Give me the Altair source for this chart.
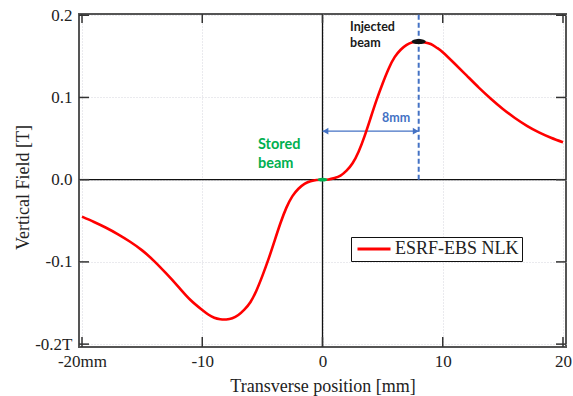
import altair as alt
import pandas as pd

# ---- data ----
x_pos = [0, 0.5, 1.0, 1.5, 2.0, 2.5, 3.0, 3.5, 4.0, 4.5, 5.0, 5.5, 6.0, 6.5, 7.0, 7.5, 8.0,
         8.5, 9.0, 9.5, 10, 11, 12, 13, 14, 15, 16, 17, 18, 19, 20]
y_pos = [0.0, 0.0003, 0.002, 0.005, 0.011, 0.020, 0.034, 0.053, 0.075, 0.097, 0.117, 0.135,
         0.149, 0.158, 0.164, 0.167, 0.168, 0.167, 0.165, 0.1605, 0.155, 0.141, 0.1265,
         0.112, 0.0985, 0.086, 0.075, 0.0655, 0.0575, 0.051, 0.0455]
x_neg = [-20, -19, -18, -17, -16, -15, -14, -13, -12, -11, -10, -9.5, -9.0, -8.5, -8.0, -7.5,
         -7.0, -6.5, -6.0, -5.5, -5.0, -4.5, -4.0, -3.5, -3.0, -2.5, -2.0, -1.5, -1.0, -0.5]
y_neg = [-0.045, -0.0515, -0.0585, -0.0665, -0.0755, -0.086, -0.099, -0.114, -0.130,
         -0.146, -0.1585, -0.164, -0.168, -0.1698, -0.170, -0.1685, -0.1645, -0.158, -0.149,
         -0.135, -0.117, -0.097, -0.075, -0.053, -0.034, -0.020, -0.011, -0.005, -0.002,
         -0.0003]

series_name = "ESRF-EBS NLK"
x_ticks = [-20, -10, 0, 10, 20]
x_tick_labels = ["-20mm", "-10", "0", "10", "20"]
y_ticks = [-0.2, -0.1, 0.0, 0.1, 0.2]
y_tick_labels = ["-0.2T", "-0.1", "0.0", "0.1", "0.2"]

stored_x, stored_y = 0.0, 0.0
injected_x, injected_y = 8.0, 0.168
arrow_y = 0.059

W, H = 487, 333
XDOM = [-20.25, 20.25]
YDOM = [-0.2035, 0.2015]
SERIF = "Liberation Serif"
SANS = "Lato"
BLUE = "#4472C4"
GREEN = "#00B050"


def label_expr(vals, labels):
    expr = "''"
    for v, l in zip(reversed(vals), reversed(labels)):
        expr = f"abs(datum.value - ({v})) < 1e-9 ? '{l}' : ({expr})"
    return expr


curve = pd.DataFrame({"x": x_neg + x_pos, "y": y_neg + y_pos,
                      "series": [series_name] * (len(x_neg) + len(x_pos))})

xs = alt.Scale(domain=XDOM, nice=False, zero=False)
ys = alt.Scale(domain=YDOM, nice=False, zero=False)

GRID = "#d4d4dc"
x_axis = alt.Axis(values=x_ticks, labelExpr=label_expr(x_ticks, x_tick_labels),
                  title="Transverse position [mm]", grid=True, gridColor=GRID,
                  gridDash=[1, 2], gridWidth=1, ticks=False, domain=False,
                  labelFont=SERIF, labelFontSize=17, labelColor="#222", labelPadding=6,
                  titleFont=SERIF, titleFontSize=18, titleFontWeight="normal",
                  titleColor="#222", titlePadding=8)
y_axis = alt.Axis(values=y_ticks, labelExpr=label_expr(y_ticks, y_tick_labels),
                  title="Vertical Field [T]", grid=True, gridColor=GRID,
                  gridDash=[1, 2], gridWidth=1, ticks=False, domain=False,
                  labelFont=SERIF, labelFontSize=17, labelColor="#222", labelPadding=7,
                  titleFont=SERIF, titleFontSize=18, titleFontWeight="normal",
                  titleColor="#222", titleX=-56, titleY=173, titleBaseline="middle")

base = alt.Chart(curve)

grid_layer = base.mark_point(opacity=0).encode(
    x=alt.X("x:Q", scale=xs, axis=x_axis),
    y=alt.Y("y:Q", scale=ys, axis=y_axis),
)

zero_df = pd.DataFrame({"v": [0.0]})
vzero = alt.Chart(zero_df).mark_rule(color="#111", strokeWidth=1.3).encode(
    x=alt.X("v:Q", scale=xs), y=alt.value(0), y2=alt.value(H))
hzero = alt.Chart(zero_df).mark_rule(color="#111", strokeWidth=1.3).encode(
    y=alt.Y("v:Q", scale=ys), x=alt.value(0), x2=alt.value(W))

xt = pd.DataFrame({"x": x_ticks})
yt = pd.DataFrame({"y": y_ticks})
tick_color = "#333"
tb = alt.Chart(xt).mark_rule(color=tick_color, strokeWidth=1.5).encode(
    x=alt.X("x:Q", scale=xs), y=alt.value(H - 10), y2=alt.value(H))
tt = alt.Chart(xt).mark_rule(color=tick_color, strokeWidth=1.5).encode(
    x=alt.X("x:Q", scale=xs), y=alt.value(0), y2=alt.value(9))
tl = alt.Chart(yt).mark_rule(color=tick_color, strokeWidth=1.5).encode(
    y=alt.Y("y:Q", scale=ys), x=alt.value(0), x2=alt.value(10))
tr = alt.Chart(yt).mark_rule(color=tick_color, strokeWidth=1.5).encode(
    y=alt.Y("y:Q", scale=ys), x=alt.value(W - 10), x2=alt.value(W))

# blue dashed vertical at injected position
vdash = alt.Chart(pd.DataFrame({"x": [injected_x], "y": [0.0], "y2": [YDOM[1]]})).mark_rule(
    color=BLUE, strokeWidth=2, strokeDash=[5, 3]).encode(
    x=alt.X("x:Q", scale=xs), y=alt.Y("y:Q", scale=ys), y2="y2:Q")

# horizontal arrow 0 -> 8mm
arr_df = pd.DataFrame({"x": [stored_x], "x2": [injected_x], "y": [arrow_y]})
arrow = alt.Chart(arr_df).mark_rule(color=BLUE, strokeWidth=1.3).encode(
    x=alt.X("x:Q", scale=xs), x2="x2:Q", y=alt.Y("y:Q", scale=ys))
head_l = alt.Chart(pd.DataFrame({"x": [stored_x], "y": [arrow_y]})).mark_point(
    shape="triangle-left", filled=True, color=BLUE, size=45, opacity=1, xOffset=3).encode(
    x=alt.X("x:Q", scale=xs), y=alt.Y("y:Q", scale=ys))
head_r = alt.Chart(pd.DataFrame({"x": [injected_x], "y": [arrow_y]})).mark_point(
    shape="triangle-right", filled=True, color=BLUE, size=45, opacity=1, xOffset=-3).encode(
    x=alt.X("x:Q", scale=xs), y=alt.Y("y:Q", scale=ys))

line = base.mark_line(strokeWidth=2.6, interpolate="natural").encode(
    x=alt.X("x:Q", scale=xs),
    y=alt.Y("y:Q", scale=ys),
    color=alt.Color("series:N",
                    scale=alt.Scale(domain=[series_name], range=["#ff0000"]),
                    legend=alt.Legend(title=None, orient="none", legendX=272, legendY=223,
                                      symbolType="M-3,0H3", symbolSize=121,
                                      symbolOffset=11, symbolStrokeWidth=3,
                                      labelFont=SERIF, labelFontSize=18, labelColor="#222",
                                      labelOffset=12, strokeColor="#111", fillColor="white",
                                      padding=3, offset=0)),
)

ellipse = "M-1,0 A1,0.38 0 1,0 1,0 A1,0.38 0 1,0 -1,0 Z"
dot_g = alt.Chart(pd.DataFrame({"x": [stored_x], "y": [stored_y]})).mark_point(
    shape=ellipse, filled=True, color=GREEN, size=100, opacity=1).encode(
    x=alt.X("x:Q", scale=xs), y=alt.Y("y:Q", scale=ys))
dot_b = alt.Chart(pd.DataFrame({"x": [injected_x], "y": [injected_y]})).mark_point(
    shape=ellipse, filled=True, color="#111", size=196, opacity=1).encode(
    x=alt.X("x:Q", scale=xs), y=alt.Y("y:Q", scale=ys))

ann = pd.DataFrame({
    "x": [-5.37, -5.37, 2.29, 2.29, 4.95],
    "y": [0.0426, 0.0195, 0.1857, 0.166, 0.075],
    "t": ["Stored", "beam", "Injected", "beam", "8mm"],
    "c": [GREEN, GREEN, "#1a1a1a", "#1a1a1a", BLUE],
    "s": [14.5, 14.5, 12.5, 12.5, 12.5],
})
texts = alt.Chart(ann).mark_text(font=SANS, fontWeight="bold", align="left",
                                 baseline="middle").encode(
    x=alt.X("x:Q", scale=xs), y=alt.Y("y:Q", scale=ys), text="t:N",
    color=alt.Color("c:N", scale=None), size=alt.Size("s:Q", scale=None))

chart = alt.layer(
    grid_layer, vzero, hzero, tb, tt, tl, tr, vdash, arrow, head_l, head_r, line,
    dot_g, dot_b, texts
).properties(
    width=W, height=H,
    autosize=alt.AutoSizeParams(type="none"),
    padding={"left": 79, "top": 14, "right": 7, "bottom": 49},
    background="white",
).configure_view(stroke="#555", strokeWidth=2)

chart.save("out.html", embed_options={"renderer": "svg", "actions": False})
